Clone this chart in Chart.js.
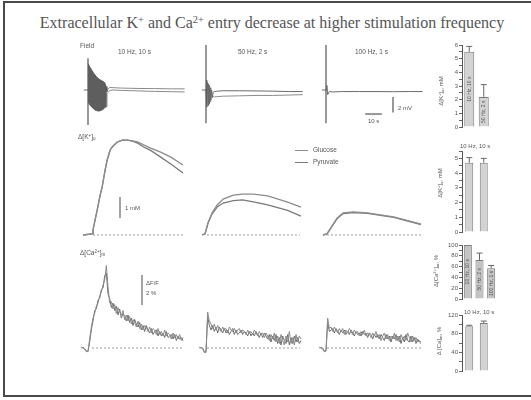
<!DOCTYPE html>
<html>
<head>
<meta charset="utf-8">
<script src="https://cdn.jsdelivr.net/npm/chart.js@4"></script>
<style>
  html, body { margin: 0; padding: 0; background: #fff; }
  #fig { position: relative; width: 531px; height: 400px; overflow: hidden;
         font-family: "Liberation Sans", Arial, sans-serif; color: #555; }
  #frame { position: absolute; left: 3px; top: 1px; width: 545px; height: 396px;
           border: 2px solid #4a4a4a; box-sizing: border-box; }
  .title { position: absolute; left: 0; width: 544px; top: 14px; text-align: center;
           font-family: "Liberation Serif", "Times New Roman", serif; font-size: 16px; color: #555; }
  .t { position: absolute; white-space: nowrap; line-height: 1; }
  .v { position: absolute; white-space: nowrap; line-height: 1; transform: translate(-50%, -50%) rotate(-90deg); }
  .t sup, .v sup { font-size: 70%; vertical-align: 0.45em; line-height: 0; }
  .t sub, .v sub { font-size: 70%; vertical-align: -0.2em; line-height: 0; }
  .leg { position: absolute; height: 0; border-top: 1.3px solid #888; }
  canvas { position: absolute; }
</style>
</head>
<body>
<div id="fig">
  <div id="frame"></div>
  <div class="title">Extracellular K<sup style="font-size:65%;vertical-align:0.5em;line-height:0">+</sup> and Ca<sup style="font-size:65%;vertical-align:0.5em;line-height:0">2+</sup> entry decrease at higher stimulation frequency</div>
</div>
<script>
// ---------- time axis shared by the recording panels (s) ----------
const T_MIN = -6, T_MAX = 60;
const CA_STEP = 1;                 // sampling interval of the Ca traces, s
const CA_START = -4;               // first Ca sample, s

// ---------- field potentials (mV) ----------
const fieldArtifact1 = [4.1, -4.5];
const fieldArtifact2 = [5.8, -4.3];
const fieldArtifact3 = [5.8, -4.3];

const fieldEnvTime  = [0, 1, 2, 3, 4, 5, 6, 7, 8, 9, 10, 10.8, 11.3];
const fieldEnvUpper = [3.4, 3.0, 2.65, 2.3, 2.0, 1.75, 1.5, 1.35, 1.22, 1.1, 0.95, 0.45, -0.2];
const fieldEnvLower = [-1.5, -1.9, -2.15, -2.35, -2.55, -2.65, -2.7, -2.7, -2.6, -2.5, -2.3, -2.15, -0.5];

const fieldPreTime  = [-2.5, 0];
const fieldPre      = [0, 0];

const fieldAfterTime = [11.3, 12, 13, 15, 20, 30, 40, 50, 58];
const fieldAfterA    = [-0.2, 0.1, 0.35, 0.3, 0.25, 0.2, 0.18, 0.15, 0.15];
const fieldAfterB    = [-0.5, -0.3, -0.05, 0.0, -0.05, -0.12, -0.18, -0.22, -0.25];

const field2Time  = [-2.5, 0, 0.3, 0.6, 0.9, 1.2, 1.5, 1.8, 2.1, 2.4, 2.7, 3.0, 3.4, 3.8, 4.3, 5, 7, 10, 20, 30, 40, 50, 58];
const field2A     = [0, 0, 1.3, -2.2, 1.0, -2.0, 0.8, -1.8, 0.6, -1.5, 0.3, -1.3, 0.0, -1.0, -0.3, -0.2, -0.15, -0.1, -0.1, -0.12, -0.15, -0.2, -0.2];
const field2BTime = [4.3, 5, 7, 10, 20, 30, 40, 50, 58];
const field2B     = [-0.8, -0.9, -0.85, -0.8, -0.75, -0.7, -0.7, -0.65, -0.6];

const field3Time  = [-2.5, 0, 0.5, 1, 2, 4, 10, 20, 30, 40, 50, 58];
const field3      = [0, 0, 0.6, -0.6, -0.2, -0.25, -0.2, -0.2, -0.2, -0.22, -0.2, -0.2];

// ---------- extracellular K+ (mM) ----------
const kTime1     = [-3, 2.4, 3, 4.2, 5.5, 7.3, 8.5, 10.3, 11.5, 13.3, 14.5, 17.6, 20.6, 23.6, 26.7, 29.7, 33.3, 37.6, 43.6, 49.7, 57];
const kGlucose1  = [0, 0.05, 0.24, 0.7, 1.19, 1.9, 2.29, 3.1, 3.57, 4.05, 4.19, 4.43, 4.52, 4.52, 4.48, 4.43, 4.29, 4.14, 3.95, 3.71, 3.33];
const kPyruvate1 = [0, 0.05, 0.24, 0.7, 1.19, 1.9, 2.29, 3.1, 3.57, 4.05, 4.19, 4.43, 4.52, 4.52, 4.47, 4.38, 4.19, 4.03, 3.71, 3.38, 2.95];

const kTime2     = [-2.4, -0.6, 1.2, 3.6, 6.7, 10.3, 16.4, 21.8, 28.5, 37, 49, 57];
const kGlucose2  = [0, 0.05, 0.57, 1.05, 1.43, 1.71, 1.9, 1.95, 1.95, 1.86, 1.57, 1.33];
const kPyruvate2 = [0, 0.05, 0.57, 1.0, 1.33, 1.52, 1.64, 1.67, 1.58, 1.43, 1.17, 0.9];

const kTime3     = [-1.8, 0.6, 3.6, 6.7, 10.3, 16.4, 24.8, 40.6, 57];
const kGlucose3  = [0, 0.05, 0.43, 0.81, 1.05, 1.1, 1.05, 0.86, 0.52];
const kPyruvate3 = [0, 0.05, 0.41, 0.78, 1.02, 1.07, 1.03, 0.84, 0.5];

// ---------- Ca2+ (% dF/F), one sample per second from CA_START ----------
const caGlucose1 = [0.05, 0.0, -0.1, -0.25, -0.2, 0.6, 1.4, 2.0, 2.3, 2.8, 3.0, 3.5, 3.7, 4.2, 4.5, 5.5,
  4.1, 3.0, 3.1, 2.6, 2.9, 2.3, 2.7, 2.4, 2.2, 2.5, 1.9, 2.2, 1.8, 2.1, 1.6, 1.9, 1.7, 1.4, 1.8, 1.3,
  1.6, 1.2, 1.5, 1.4, 1.1, 1.4, 1.0, 1.3, 1.2, 0.9, 1.3, 0.9, 1.1, 0.8, 1.2, 0.8, 1.0, 0.9, 0.6, 1.0,
  0.7, 0.9, 0.6, 0.9, 0.5, 0.7];
const caPyruvate1 = [0.0, 0.05, -0.05, -0.2, -0.25, 0.4, 1.2, 1.8, 2.5, 2.6, 3.2, 3.3, 3.9, 4.0, 4.8, 5.0,
  3.6, 3.3, 2.7, 3.0, 2.5, 2.8, 2.2, 2.6, 2.0, 2.3, 2.1, 1.8, 2.2, 1.7, 2.0, 1.5, 1.9, 1.6, 1.4, 1.7,
  1.2, 1.5, 1.1, 1.5, 1.2, 1.0, 1.3, 0.9, 1.1, 1.2, 0.8, 1.1, 0.8, 1.0, 0.7, 1.1, 0.7, 0.8, 0.9, 0.6,
  0.9, 0.5, 0.8, 0.6, 0.7, 0.5];
const caGlucose2 = [0.0, 0.05, -0.05, -0.3, -0.2, 2.4, 1.8, 1.6, 1.3, 1.6, 1.2, 1.5, 1.3, 1.1, 1.4, 1.2,
  1.3, 1.0, 1.4, 1.2, 1.1, 1.3, 1.0, 1.2, 1.3, 1.0, 1.2, 1.1, 0.9, 1.2, 1.0, 1.1, 0.9, 1.2, 1.0, 0.8,
  1.1, 0.9, 1.0, 0.7, 1.0, 0.8, 0.5, 0.9, 0.6, 1.0, 0.4, 0.8, 0.3, 0.9, 0.5, 0.2, 0.8, 0.4, 1.1, 0.3,
  0.7, 0.2, 0.9, 0.4, 0.8, 0.6];
const caPyruvate2 = [0.05, 0.0, 0.0, -0.25, -0.3, 2.1, 1.5, 1.2, 1.5, 1.1, 1.4, 1.0, 1.4, 1.2, 1.0, 1.3,
  1.0, 1.2, 0.9, 1.1, 1.3, 0.9, 1.2, 0.9, 1.0, 1.2, 0.9, 1.1, 1.0, 0.8, 1.1, 0.8, 1.0, 0.8, 1.1, 0.9,
  0.7, 1.0, 0.7, 1.0, 0.8, 0.6, 0.9, 0.4, 0.8, 0.5, 0.9, 0.3, 0.7, 0.2, 0.8, 0.5, 0.3, 0.9, 0.2, 0.7,
  0.3, 0.8, 0.4, 0.7, 0.3, 0.5];
const caGlucose3 = [0.0, 0.05, 0.0, -0.2, -0.15, 2.0, 1.3, 1.4, 1.1, 1.4, 1.2, 1.0, 1.3, 1.1, 1.3, 0.9,
  1.2, 1.0, 1.3, 1.1, 0.9, 1.2, 1.0, 1.1, 0.8, 1.1, 0.9, 1.2, 0.8, 1.0, 0.9, 0.7, 1.0, 0.8, 1.1, 0.7,
  0.9, 0.5, 0.8, 1.0, 0.6, 0.9, 0.5, 0.8, 0.6, 1.0, 0.5, 0.8, 0.4, 0.9, 0.6, 0.8, 0.5, 1.0, 0.7, 0.4,
  0.8, 0.5, 0.7, 0.4, 0.5, 0.4];
const caPyruvate3 = [0.05, 0.0, -0.05, -0.25, -0.2, 1.7, 1.1, 1.2, 1.3, 1.0, 1.3, 1.1, 0.9, 1.2, 1.0, 1.2,
  0.9, 1.1, 0.9, 1.2, 1.0, 0.8, 1.1, 0.9, 1.0, 0.8, 1.1, 0.9, 1.0, 0.7, 1.0, 0.9, 0.6, 0.9, 0.7, 0.9,
  0.6, 0.9, 0.7, 0.5, 0.9, 0.6, 0.8, 0.4, 0.8, 0.6, 0.9, 0.5, 0.8, 0.3, 0.7, 0.4, 0.9, 0.5, 0.4, 0.8,
  0.4, 0.7, 0.3, 0.6, 0.4, 0.3];

// ---------- summary bars ----------
const freqLabels     = ['10 Hz, 10 s', '50 Hz, 2 s'];
const kPeakByFreq    = [5.5, 2.2];
const kPeakByFreqErr = [0.4, 0.9];

const substrateLabels   = ['Glucose', 'Pyruvate'];
const kPeakBySubstr     = [4.7, 4.7];
const kPeakBySubstrErr  = [0.35, 0.3];

const freqLabels3       = ['10 Hz, 10 s', '50 Hz, 2 s', '100 Hz, 1 s'];
const caByFreq          = [100, 72, 57];
const caByFreqErr       = [0, 13, 5];

const caBySubstr        = [96, 103];
const caBySubstrErr     = [2, 4];

// ---------- layout ----------
const fig = document.getElementById('fig');
Chart.defaults.font.family = '"Liberation Sans", Arial, sans-serif';
Chart.defaults.color = '#555';

const PANEL_W = 110;
const PX_S = PANEL_W / (T_MAX - T_MIN);
const COL_X0 = [88, 206, 326];          // stimulus onset of each column
const ROW_FIELD = { top: 42,  h: 88,  base: 90,  ppu: 7.75 };
const ROW_K     = { top: 135, h: 105, base: 235, ppu: 21 };
const ROW_CA    = { top: 255, h: 105, base: 348, ppu: 15 };

const pts = (ts, vs) => vs.map((v, i) => ({ x: ts[i], y: v }));
const caPts = vs => vs.map((v, i) => ({ x: CA_START + i * CA_STEP, y: v }));
const seg = (x1, y1, x2, y2) => [{ x: x1, y: y1 }, { x: x2, y: y2 }];

function line(data, color, width, extra) {
  return Object.assign({ data, borderColor: color, borderWidth: width, pointRadius: 0,
                         fill: false, tension: 0, clip: false }, extra || {});
}

function traceChart(col, row, datasets) {
  const c = document.createElement('canvas');
  c.width = PANEL_W; c.height = row.h;
  c.style.left = (COL_X0[col] + T_MIN * PX_S) + 'px';
  c.style.top = row.top + 'px';
  fig.appendChild(c);
  new Chart(c, {
    type: 'line',
    data: { datasets },
    options: {
      responsive: false, animation: false, events: [],
      layout: { padding: 0 },
      scales: {
        x: { type: 'linear', min: T_MIN, max: T_MAX, display: false },
        y: { type: 'linear', min: -(row.top + row.h - row.base) / row.ppu,
             max: (row.base - row.top) / row.ppu, display: false }
      },
      plugins: { legend: { display: false }, tooltip: { enabled: false } }
    }
  });
}

// ----- field row -----
const FIELD_COL = '#6a6a6a';
traceChart(0, ROW_FIELD, [
  line(pts(fieldEnvTime, fieldEnvUpper), '#555', 1, { fill: '+1', backgroundColor: '#5e5e5e' }),
  line(pts(fieldEnvTime, fieldEnvLower), '#555', 1),
  line(seg(0, fieldArtifact1[0], 0, fieldArtifact1[1]), '#555', 1.2),
  line(pts(fieldPreTime, fieldPre), FIELD_COL, 1),
  line(pts(fieldAfterTime, fieldAfterA), '#8a8a8a', 1),
  line(pts(fieldAfterTime, fieldAfterB), '#8a8a8a', 1)
]);
traceChart(1, ROW_FIELD, [
  line(seg(0, fieldArtifact2[0], 0, fieldArtifact2[1]), '#555', 1.2),
  line(pts(field2Time, field2A), FIELD_COL, 1),
  line(pts(field2BTime, field2B), '#8a8a8a', 1)
]);
traceChart(2, ROW_FIELD, [
  line(seg(0, fieldArtifact3[0], 0, fieldArtifact3[1]), '#555', 1.2),
  line(pts(field3Time, field3), FIELD_COL, 1),
  // scale bars: 2 mV and 10 s
  line(seg(40.2, -0.9, 40.2, -2.9), '#555', 1.2),
  line(seg(23.5, -3.1, 33.5, -3.1), '#555', 1.2)
]);

// ----- K+ row -----
const GLU = '#8c8c8c', PYR = '#7a7a7a';
const dashed = (t1, t2) => line(seg(t1, 0, t2, 0), '#9a9a9a', 1, { borderDash: [2, 2] });
traceChart(0, ROW_K, [
  dashed(3, 58),
  line(pts(kTime1, kGlucose1), GLU, 1.3),
  line(pts(kTime1, kPyruvate1), PYR, 1.3),
  line(seg(19.2, 0.81, 19.2, 1.81), '#666', 1.2)     // 1 mM scale bar
]);
traceChart(1, ROW_K, [
  dashed(0.6, 56.4),
  line(pts(kTime2, kGlucose2), GLU, 1.3),
  line(pts(kTime2, kPyruvate2), PYR, 1.3)
]);
traceChart(2, ROW_K, [
  dashed(0.6, 58.2),
  line(pts(kTime3, kGlucose3), GLU, 1.3),
  line(pts(kTime3, kPyruvate3), PYR, 1.3)
]);

// ----- Ca2+ row -----
traceChart(0, ROW_CA, [
  dashed(2.4, 56.4),
  line(caPts(caGlucose1), '#8a8a8a', 1),
  line(caPts(caPyruvate1), '#6e6e6e', 1),
  line(seg(32.4, 2.87, 32.4, 4.87), '#666', 1.2)     // 2 % scale bar
]);
traceChart(1, ROW_CA, [
  dashed(0.6, 56.4),
  line(caPts(caGlucose2), '#8a8a8a', 1),
  line(caPts(caPyruvate2), '#6e6e6e', 1)
]);
traceChart(2, ROW_CA, [
  dashed(0.6, 58.2),
  line(caPts(caGlucose3), '#8a8a8a', 1),
  line(caPts(caPyruvate3), '#6e6e6e', 1)
]);

// ---------- bar charts ----------
const errorBars = {
  id: 'errorBars',
  afterDatasetsDraw(chart, args, opts) {
    const errs = opts.errors; if (!errs) return;
    const ys = chart.scales.y, meta = chart.getDatasetMeta(0), ctx = chart.ctx;
    const vals = chart.data.datasets[0].data;
    ctx.save(); ctx.strokeStyle = '#666'; ctx.lineWidth = 1;
    meta.data.forEach((bar, i) => {
      if (!errs[i]) return;
      const yTop = ys.getPixelForValue(vals[i] + errs[i]);
      ctx.beginPath();
      ctx.moveTo(bar.x, bar.y); ctx.lineTo(bar.x, yTop);
      ctx.moveTo(bar.x - 3, yTop); ctx.lineTo(bar.x + 3, yTop);
      ctx.stroke();
    });
    ctx.restore();
  }
};
const barText = {
  id: 'barText',
  afterDatasetsDraw(chart, args, opts) {
    if (!opts.show) return;
    const ctx = chart.ctx, meta = chart.getDatasetMeta(0);
    ctx.save();
    ctx.font = '5px "Liberation Sans", Arial, sans-serif';
    ctx.fillStyle = '#555'; ctx.textAlign = 'center'; ctx.textBaseline = 'middle';
    meta.data.forEach((bar, i) => {
      ctx.save();
      ctx.translate(bar.x, (bar.y + bar.base) / 2);
      ctx.rotate(-Math.PI / 2);
      ctx.fillText(chart.data.labels[i], 0, 0);
      ctx.restore();
    });
    ctx.restore();
  }
};

function barChart(cfg) {
  const c = document.createElement('canvas');
  c.width = cfg.w; c.height = cfg.h;
  c.style.left = cfg.left + 'px'; c.style.top = cfg.top + 'px';
  fig.appendChild(c);
  new Chart(c, {
    type: 'bar',
    data: { labels: cfg.labels, datasets: [{
      data: cfg.values, backgroundColor: cfg.fill || '#d2d2d2', borderColor: '#7c7c7c', borderWidth: 1,
      barPercentage: cfg.barPct, categoryPercentage: 1 }] },
    options: {
      responsive: false, animation: false, events: [],
      layout: { padding: cfg.pad },
      scales: {
        x: { display: false, offset: true },
        y: {
          min: 0, max: cfg.yMax,
          border: { display: true, color: '#555', width: 1 },
          grid: { drawOnChartArea: false, drawTicks: true, tickLength: 3, color: '#666' },
          ticks: { stepSize: cfg.step, autoSkip: false, padding: 1, color: '#555', font: { size: 6 },
                   callback: v => (Math.abs(v / cfg.every - Math.round(v / cfg.every)) < 1e-6 ? v : '') },
          afterFit: s => { s.width = cfg.axisW; }
        }
      },
      plugins: { legend: { display: false }, tooltip: { enabled: false },
                 errorBars: { errors: cfg.errors }, barText: { show: !!cfg.inner } }
    },
    plugins: [errorBars, barText]
  });
}

barChart({ left: 430, top: 40, w: 70, h: 95, axisW: 32, pad: { top: 5, bottom: 8, right: 9, left: 0 },
  labels: freqLabels, values: kPeakByFreq, errors: kPeakByFreqErr,
  yMax: 6, step: 0.5, every: 1, barPct: 0.69, inner: true });
barChart({ left: 430, top: 140, w: 70, h: 100, axisW: 32, pad: { top: 11, bottom: 8, right: 9, left: 0 },
  labels: substrateLabels, values: kPeakBySubstr, errors: kPeakBySubstrErr,
  yMax: 5.5, step: 0.5, every: 1, barPct: 0.55 });
barChart({ left: 430, top: 238, w: 70, h: 67, axisW: 32, pad: { top: 7, bottom: 6, right: 3, left: 0 },
  labels: freqLabels3, values: caByFreq, errors: caByFreqErr,
  yMax: 100, step: 10, every: 20, barPct: 0.69, inner: true, fill: '#c4c4c4' });
barChart({ left: 430, top: 305, w: 70, h: 73, axisW: 32, pad: { top: 10, bottom: 7, right: 9, left: 0 },
  labels: substrateLabels, values: caBySubstr, errors: caBySubstrErr,
  yMax: 120, step: 20, every: 40, barPct: 0.55 });

// ---------- text ----------
function text(html, x, yc, size, cls) {
  const d = document.createElement('div');
  d.className = cls || 't';
  d.innerHTML = html;
  d.style.fontSize = size + 'px';
  if (cls === 'v') { d.style.left = x + 'px'; d.style.top = yc + 'px'; }
  else { d.style.left = x + 'px'; d.style.top = (yc - size / 2) + 'px'; }
  fig.appendChild(d);
}
text('Field', 80, 46, 6.5);
text('10 Hz, 10 s', 118, 52, 6.5);
text('50 Hz, 2 s', 238, 52, 6.5);
text('100 Hz, 1 s', 355, 52, 6.5);
text('2 mV', 398, 108, 6);
text('10 s', 368, 121, 6);
text('Δ[K<sup>+</sup>]<sub>o</sub>', 78, 137, 6.5);
text('1 mM', 125, 208, 6);
text('Glucose', 313, 150, 6.5);
text('Pyruvate', 313, 162, 6.5);
text('Δ[Ca<sup>2+</sup>]<sub>m</sub>', 80, 253, 6.5);
text('ΔF/F', 146, 283, 6);
text('2 %', 146, 293, 6);
text('10 Hz, 10 s', 460, 146, 6);
text('10 Hz, 10 s', 464, 312, 6);
text('Δ[K<sup>+</sup>]<sub>o</sub>, mM', 441, 91, 6, 'v');
text('Δ[K<sup>+</sup>]<sub>o</sub>, mM', 440, 183, 6, 'v');
text('Δ[Ca<sup>2+</sup>]<sub>m</sub>, %', 436, 271, 6, 'v');
text('Δ [Ca]<sub>m</sub>, %', 439, 341, 6, 'v');

// legend line samples
[[150, GLU], [162, PYR]].forEach(([y, col]) => {
  const s = document.createElement('div');
  s.className = 'leg';
  s.style.left = '295px'; s.style.top = y + 'px'; s.style.width = '13px';
  s.style.borderTopColor = col;
  fig.appendChild(s);
});
</script>
</body>
</html>
